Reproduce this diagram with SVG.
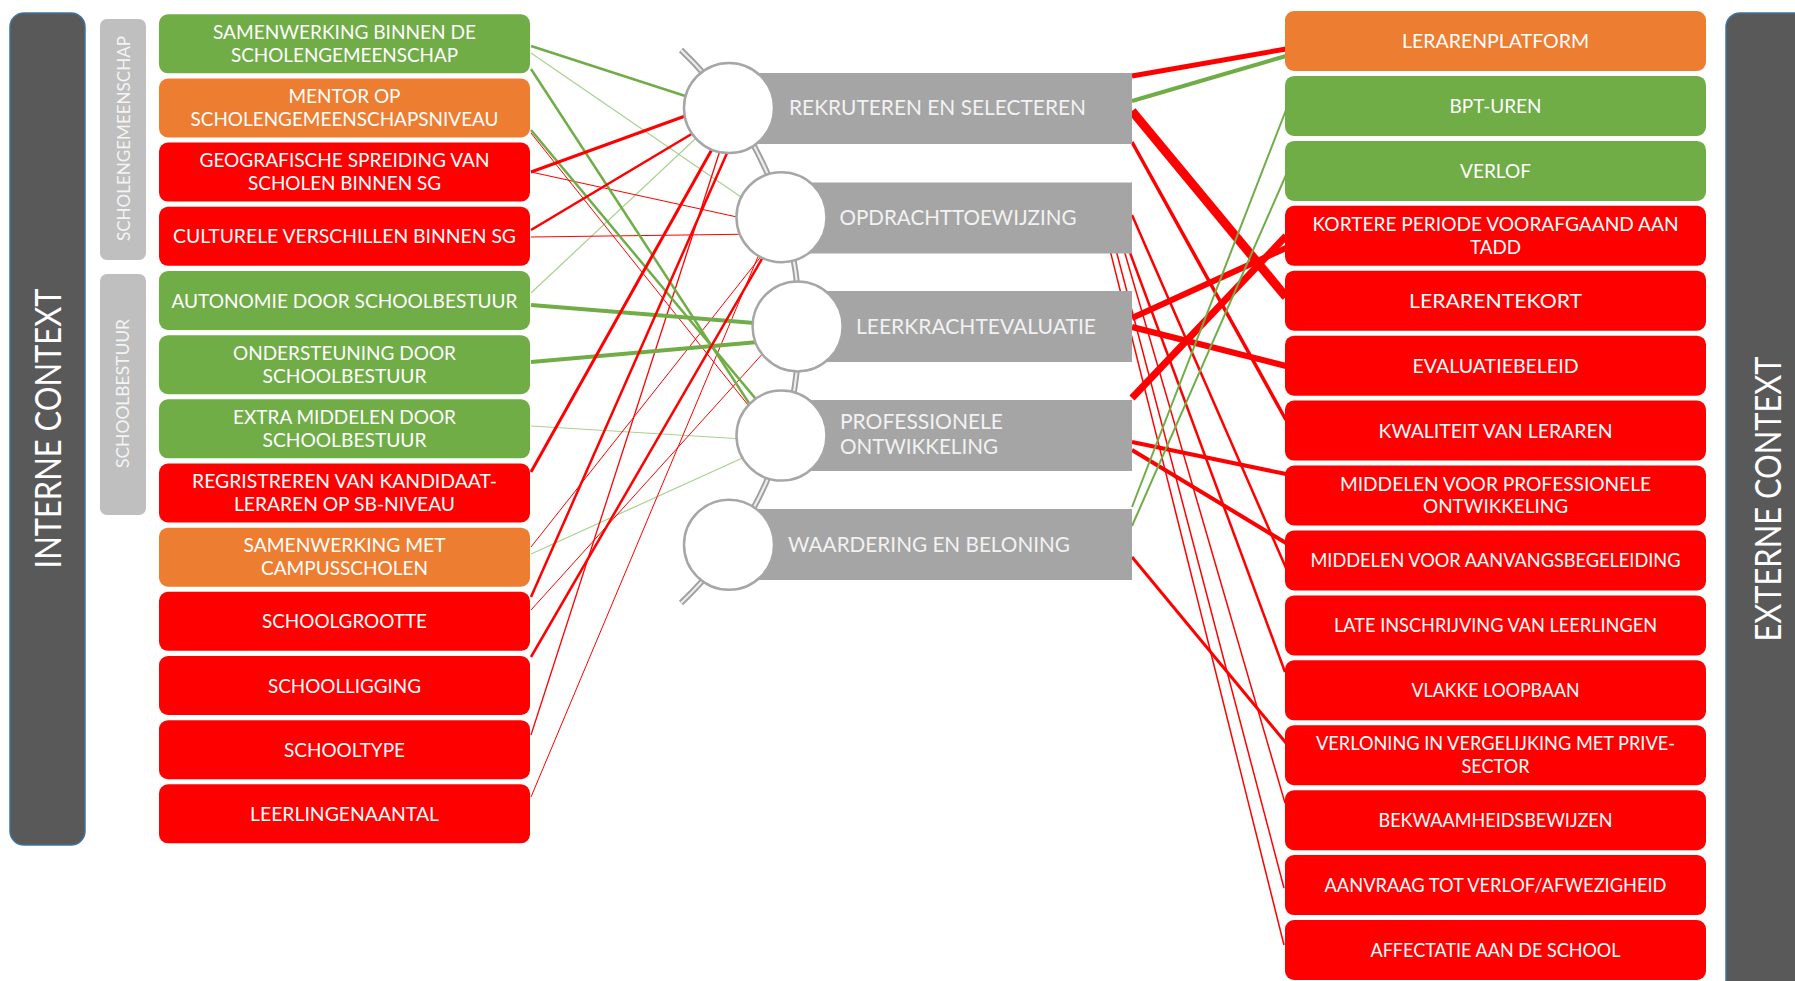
<svg xmlns="http://www.w3.org/2000/svg" width="1795" height="981" viewBox="0 0 1795 981">
<style>
.bar{fill:#595959;stroke:#41719C;stroke-width:1.5}
.grp{fill:#BFBFBF}
.g{fill:#70AD47}
.o{fill:#ED7D31}
.r{fill:#FF0000}
.t{font-family:Lato,"Liberation Sans",sans-serif;font-size:20px;fill:#FFFFFF;text-anchor:middle}
.ct{font-family:Lato,"Liberation Sans",sans-serif;font-size:21px;fill:#F2F2F2}
.big{font-family:Lato,"Liberation Sans",sans-serif;font-size:37px;fill:#FFFFFF;text-anchor:middle}
.gt{font-family:Lato,"Liberation Sans",sans-serif;font-size:17px;fill:#F4F4F4;text-anchor:middle}
.box{fill:#A5A5A5}
.circ{fill:#FFFFFF;stroke:#A6A6A6;stroke-width:2.5}
.ln{fill:none;stroke-linecap:butt}
.red{stroke:#FF0000}
.grn{stroke:#70AD47}
.lgr{stroke:#A9D18E}
</style>

<g id="interne-context">
<rect class="bar" x="10" y="13" width="75" height="832" rx="14"/>
<text class="big" transform="translate(61,428.5) rotate(-90)" textLength="280" lengthAdjust="spacingAndGlyphs">INTERNE CONTEXT</text>
</g>
<g id="externe-context">
<rect class="bar" x="1726" y="13" width="120" height="990" rx="14"/>
<text class="big" transform="translate(1781,499) rotate(-90)" textLength="285" lengthAdjust="spacingAndGlyphs">EXTERNE CONTEXT</text>
</g>
<g id="grp-scholengemeenschap">
<rect class="grp" x="100" y="19" width="46" height="241" rx="7"/>
<text class="gt" transform="translate(130,138.5) rotate(-90)" textLength="205" lengthAdjust="spacingAndGlyphs">SCHOLENGEMEENSCHAP</text>
</g>
<g id="grp-schoolbestuur">
<rect class="grp" x="100" y="274" width="46" height="241" rx="7"/>
<text class="gt" transform="translate(129,393.5) rotate(-90)" textLength="149" lengthAdjust="spacingAndGlyphs">SCHOOLBESTUUR</text>
</g>

<g id="connectors">
<!-- left side -->
<line class="ln lgr" stroke-width="1.2" x1="531" y1="53" x2="760" y2="210"/>
<line class="ln lgr" stroke-width="1.2" x1="531" y1="293" x2="710" y2="125"/>
<line class="ln lgr" stroke-width="1.2" x1="531" y1="426" x2="760" y2="440"/>
<line class="ln lgr" stroke-width="1.2" x1="531" y1="554" x2="760" y2="450"/>
<line class="ln red" stroke-width="1" x1="531" y1="133" x2="760" y2="420"/>
<line class="ln red" stroke-width="1" x1="531" y1="172" x2="760" y2="222"/>
<line class="ln red" stroke-width="1" x1="531" y1="237" x2="760" y2="234"/>
<line class="ln red" stroke-width="1" x1="531" y1="547" x2="770" y2="245"/>
<line class="ln red" stroke-width="1" x1="531" y1="610" x2="775" y2="340"/>
<line class="ln red" stroke-width="1.3" x1="531" y1="735" x2="725" y2="135"/>
<line class="ln red" stroke-width="1" x1="531" y1="797" x2="765" y2="240"/>
<line class="ln grn" stroke-width="2.5" x1="531" y1="46" x2="710" y2="104"/>
<line class="ln grn" stroke-width="2.5" x1="531" y1="69" x2="760" y2="420"/>
<line class="ln grn" stroke-width="2.5" x1="531" y1="130" x2="765" y2="410"/>
<line class="ln grn" stroke-width="4" x1="531" y1="305" x2="780" y2="325"/>
<line class="ln grn" stroke-width="4" x1="531" y1="362" x2="780" y2="340"/>
<line class="ln red" stroke-width="3" x1="531" y1="172" x2="710" y2="107"/>
<line class="ln red" stroke-width="2.5" x1="531" y1="230" x2="715" y2="120"/>
<line class="ln red" stroke-width="3" x1="531" y1="472" x2="720" y2="135"/>
<line class="ln red" stroke-width="2.5" x1="531" y1="597" x2="735" y2="135"/>
<line class="ln red" stroke-width="2.5" x1="531" y1="657" x2="770" y2="245"/>
<!-- right side -->
<line class="ln red" stroke-width="5" x1="1132" y1="76" x2="1286" y2="49"/>
<line class="ln grn" stroke-width="4" x1="1132" y1="101" x2="1286" y2="56"/>
<line class="ln red" stroke-width="9" x1="1132" y1="111" x2="1286" y2="297"/>
<line class="ln red" stroke-width="3.5" x1="1132" y1="142" x2="1286" y2="420"/>
<line class="ln red" stroke-width="2.5" x1="1132" y1="215" x2="1286" y2="568"/>
<line class="ln red" stroke-width="1.5" x1="1110" y1="250" x2="1284" y2="945"/>
<line class="ln red" stroke-width="1.5" x1="1116" y1="250" x2="1284" y2="888"/>
<line class="ln red" stroke-width="1.5" x1="1124" y1="250" x2="1285" y2="803"/>
<line class="ln red" stroke-width="2.5" x1="1129" y1="250" x2="1285" y2="672"/>
<line class="ln red" stroke-width="6" x1="1132" y1="318" x2="1286" y2="248"/>
<line class="ln red" stroke-width="6" x1="1132" y1="327" x2="1286" y2="366"/>
<line class="ln red" stroke-width="7" x1="1132" y1="398" x2="1286" y2="236"/>
<line class="ln red" stroke-width="4" x1="1132" y1="442" x2="1286" y2="474"/>
<line class="ln red" stroke-width="4" x1="1132" y1="450" x2="1286" y2="543"/>
<line class="ln red" stroke-width="3" x1="1132" y1="557" x2="1286" y2="743"/>
<line class="ln grn" stroke-width="2" x1="1132" y1="507" x2="1286" y2="110"/>
<line class="ln grn" stroke-width="2" x1="1132" y1="526" x2="1286" y2="175"/>
</g>

<g id="spine">
<path d="M681,50 A382,382 0 0 1 681,603" fill="none" stroke="#A0A0A0" stroke-width="6"/>
<path d="M681,50 A382,382 0 0 1 681,603" fill="none" stroke="#EDEDED" stroke-width="2.2"/>
</g>

<g id="rekruteren">
<rect class="box" x="729" y="73" width="403" height="71"/>
<circle class="circ" cx="729" cy="108" r="45"/>
<text class="ct" x="789" y="115" textLength="297" lengthAdjust="spacingAndGlyphs">REKRUTEREN EN SELECTEREN</text>
</g>
<g id="opdrachttoewijzing">
<rect class="box" x="781" y="182.5" width="351" height="71"/>
<circle class="circ" cx="781.5" cy="217.2" r="45"/>
<text class="ct" x="839.5" y="224.5" textLength="237" lengthAdjust="spacingAndGlyphs">OPDRACHTTOEWIJZING</text>
</g>
<g id="leerkrachtevaluatie">
<rect class="box" x="797" y="291" width="335" height="71"/>
<circle class="circ" cx="797.6" cy="326.4" r="45"/>
<text class="ct" x="856" y="333.5" textLength="240" lengthAdjust="spacingAndGlyphs">LEERKRACHTEVALUATIE</text>
</g>
<g id="professionele-ontwikkeling">
<rect class="box" x="781" y="400" width="351" height="71"/>
<circle class="circ" cx="781.5" cy="435.6" r="45"/>
<text class="ct" x="840" y="429.3" textLength="163" lengthAdjust="spacingAndGlyphs">PROFESSIONELE</text>
<text class="ct" x="840" y="454.3" textLength="158" lengthAdjust="spacingAndGlyphs">ONTWIKKELING</text>
</g>
<g id="waardering">
<rect class="box" x="729" y="509" width="403" height="71"/>
<circle class="circ" cx="729" cy="544.8" r="45"/>
<text class="ct" x="788" y="552" textLength="282" lengthAdjust="spacingAndGlyphs">WAARDERING EN BELONING</text>
</g>

<!-- left nodes -->
<g id="l-samenwerking-sg"><rect class="g" x="159" y="14.3" width="371" height="59" rx="9"/>
<text class="t" x="344.5" y="39" textLength="263" lengthAdjust="spacingAndGlyphs">SAMENWERKING BINNEN DE</text>
<text class="t" x="344.5" y="61.7" textLength="227" lengthAdjust="spacingAndGlyphs">SCHOLENGEMEENSCHAP</text></g>
<g id="l-mentor"><rect class="o" x="159" y="78.5" width="371" height="59" rx="9"/>
<text class="t" x="344.5" y="103.2" textLength="112" lengthAdjust="spacingAndGlyphs">MENTOR OP</text>
<text class="t" x="344.5" y="125.9" textLength="308" lengthAdjust="spacingAndGlyphs">SCHOLENGEMEENSCHAPSNIVEAU</text></g>
<g id="l-geografische"><rect class="r" x="159" y="142.6" width="371" height="59" rx="9"/>
<text class="t" x="344.5" y="167.3" textLength="290" lengthAdjust="spacingAndGlyphs">GEOGRAFISCHE SPREIDING VAN</text>
<text class="t" x="344.5" y="190" textLength="193" lengthAdjust="spacingAndGlyphs">SCHOLEN BINNEN SG</text></g>
<g id="l-culturele"><rect class="r" x="159" y="206.8" width="371" height="59" rx="9"/>
<text class="t" x="344.5" y="243.3" textLength="343" lengthAdjust="spacingAndGlyphs">CULTURELE VERSCHILLEN BINNEN SG</text></g>
<g id="l-autonomie"><rect class="g" x="159" y="271" width="371" height="59" rx="9"/>
<text class="t" x="344.5" y="307.5" textLength="346" lengthAdjust="spacingAndGlyphs">AUTONOMIE DOOR SCHOOLBESTUUR</text></g>
<g id="l-ondersteuning"><rect class="g" x="159" y="335.2" width="371" height="59" rx="9"/>
<text class="t" x="344.5" y="359.9" textLength="223" lengthAdjust="spacingAndGlyphs">ONDERSTEUNING DOOR</text>
<text class="t" x="344.5" y="382.6" textLength="164" lengthAdjust="spacingAndGlyphs">SCHOOLBESTUUR</text></g>
<g id="l-extra-middelen"><rect class="g" x="159" y="399.3" width="371" height="59" rx="9"/>
<text class="t" x="344.5" y="424" textLength="223" lengthAdjust="spacingAndGlyphs">EXTRA MIDDELEN DOOR</text>
<text class="t" x="344.5" y="446.7" textLength="164" lengthAdjust="spacingAndGlyphs">SCHOOLBESTUUR</text></g>
<g id="l-registreren"><rect class="r" x="159" y="463.5" width="371" height="59" rx="9"/>
<text class="t" x="344.5" y="488.2" textLength="305" lengthAdjust="spacingAndGlyphs">REGRISTREREN VAN KANDIDAAT-</text>
<text class="t" x="344.5" y="510.9" textLength="221" lengthAdjust="spacingAndGlyphs">LERAREN OP SB-NIVEAU</text></g>
<g id="l-campusscholen"><rect class="o" x="159" y="527.7" width="371" height="59" rx="9"/>
<text class="t" x="344.5" y="552.4" textLength="202" lengthAdjust="spacingAndGlyphs">SAMENWERKING MET</text>
<text class="t" x="344.5" y="575.1" textLength="167" lengthAdjust="spacingAndGlyphs">CAMPUSSCHOLEN</text></g>
<g id="l-schoolgrootte"><rect class="r" x="159" y="591.8" width="371" height="59" rx="9"/>
<text class="t" x="344.5" y="628.3" textLength="165" lengthAdjust="spacingAndGlyphs">SCHOOLGROOTTE</text></g>
<g id="l-schoolligging"><rect class="r" x="159" y="656" width="371" height="59" rx="9"/>
<text class="t" x="344.5" y="692.5" textLength="153" lengthAdjust="spacingAndGlyphs">SCHOOLLIGGING</text></g>
<g id="l-schooltype"><rect class="r" x="159" y="720.2" width="371" height="59" rx="9"/>
<text class="t" x="344.5" y="756.7" textLength="121" lengthAdjust="spacingAndGlyphs">SCHOOLTYPE</text></g>
<g id="l-leerlingenaantal"><rect class="r" x="159" y="784.3" width="371" height="59" rx="9"/>
<text class="t" x="344.5" y="820.8" textLength="189" lengthAdjust="spacingAndGlyphs">LEERLINGENAANTAL</text></g>

<!-- right nodes -->
<g id="r-lerarenplatform"><rect class="o" x="1285" y="11" width="421" height="60" rx="9"/>
<text class="t" x="1495.5" y="48" textLength="187" lengthAdjust="spacingAndGlyphs">LERARENPLATFORM</text></g>
<g id="r-bpt-uren"><rect class="g" x="1285" y="75.9" width="421" height="60" rx="9"/>
<text class="t" x="1495.5" y="112.9" textLength="92" lengthAdjust="spacingAndGlyphs">BPT-UREN</text></g>
<g id="r-verlof"><rect class="g" x="1285" y="140.9" width="421" height="60" rx="9"/>
<text class="t" x="1495.5" y="177.9" textLength="71" lengthAdjust="spacingAndGlyphs">VERLOF</text></g>
<g id="r-kortere-periode"><rect class="r" x="1285" y="205.8" width="421" height="60" rx="9"/>
<text class="t" x="1495.5" y="231" textLength="366" lengthAdjust="spacingAndGlyphs">KORTERE PERIODE VOORAFGAAND AAN</text>
<text class="t" x="1495.5" y="253.7" textLength="51" lengthAdjust="spacingAndGlyphs">TADD</text></g>
<g id="r-lerarentekort"><rect class="r" x="1285" y="270.7" width="421" height="60" rx="9"/>
<text class="t" x="1495.5" y="307.7" textLength="173" lengthAdjust="spacingAndGlyphs">LERARENTEKORT</text></g>
<g id="r-evaluatiebeleid"><rect class="r" x="1285" y="335.7" width="421" height="60" rx="9"/>
<text class="t" x="1495.5" y="372.7" textLength="166" lengthAdjust="spacingAndGlyphs">EVALUATIEBELEID</text></g>
<g id="r-kwaliteit"><rect class="r" x="1285" y="400.6" width="421" height="60" rx="9"/>
<text class="t" x="1495.5" y="437.6" textLength="234" lengthAdjust="spacingAndGlyphs">KWALITEIT VAN LERAREN</text></g>
<g id="r-middelen-prof"><rect class="r" x="1285" y="465.5" width="421" height="60" rx="9"/>
<text class="t" x="1495.5" y="490.7" textLength="311" lengthAdjust="spacingAndGlyphs">MIDDELEN VOOR PROFESSIONELE</text>
<text class="t" x="1495.5" y="513.4" textLength="145" lengthAdjust="spacingAndGlyphs">ONTWIKKELING</text></g>
<g id="r-middelen-aanvang"><rect class="r" x="1285" y="530.4" width="421" height="60" rx="9"/>
<text class="t" x="1495.5" y="567.4" textLength="370" lengthAdjust="spacingAndGlyphs">MIDDELEN VOOR AANVANGSBEGELEIDING</text></g>
<g id="r-late-inschrijving"><rect class="r" x="1285" y="595.4" width="421" height="60" rx="9"/>
<text class="t" x="1495.5" y="632.4" textLength="323" lengthAdjust="spacingAndGlyphs">LATE INSCHRIJVING VAN LEERLINGEN</text></g>
<g id="r-vlakke-loopbaan"><rect class="r" x="1285" y="660.3" width="421" height="60" rx="9"/>
<text class="t" x="1495.5" y="697.3" textLength="168" lengthAdjust="spacingAndGlyphs">VLAKKE LOOPBAAN</text></g>
<g id="r-verloning"><rect class="r" x="1285" y="725.2" width="421" height="60" rx="9"/>
<text class="t" x="1495.5" y="750.4" textLength="359" lengthAdjust="spacingAndGlyphs">VERLONING IN VERGELIJKING MET PRIVE-</text>
<text class="t" x="1495.5" y="773.1" textLength="68" lengthAdjust="spacingAndGlyphs">SECTOR</text></g>
<g id="r-bekwaamheid"><rect class="r" x="1285" y="790.2" width="421" height="60" rx="9"/>
<text class="t" x="1495.5" y="827.2" textLength="234" lengthAdjust="spacingAndGlyphs">BEKWAAMHEIDSBEWIJZEN</text></g>
<g id="r-aanvraag-verlof"><rect class="r" x="1285" y="855.1" width="421" height="60" rx="9"/>
<text class="t" x="1495.5" y="892.1" textLength="342" lengthAdjust="spacingAndGlyphs">AANVRAAG TOT VERLOF/AFWEZIGHEID</text></g>
<g id="r-affectatie"><rect class="r" x="1285" y="920" width="421" height="60" rx="9"/>
<text class="t" x="1495.5" y="957" textLength="250" lengthAdjust="spacingAndGlyphs">AFFECTATIE AAN DE SCHOOL</text></g>
</svg>
